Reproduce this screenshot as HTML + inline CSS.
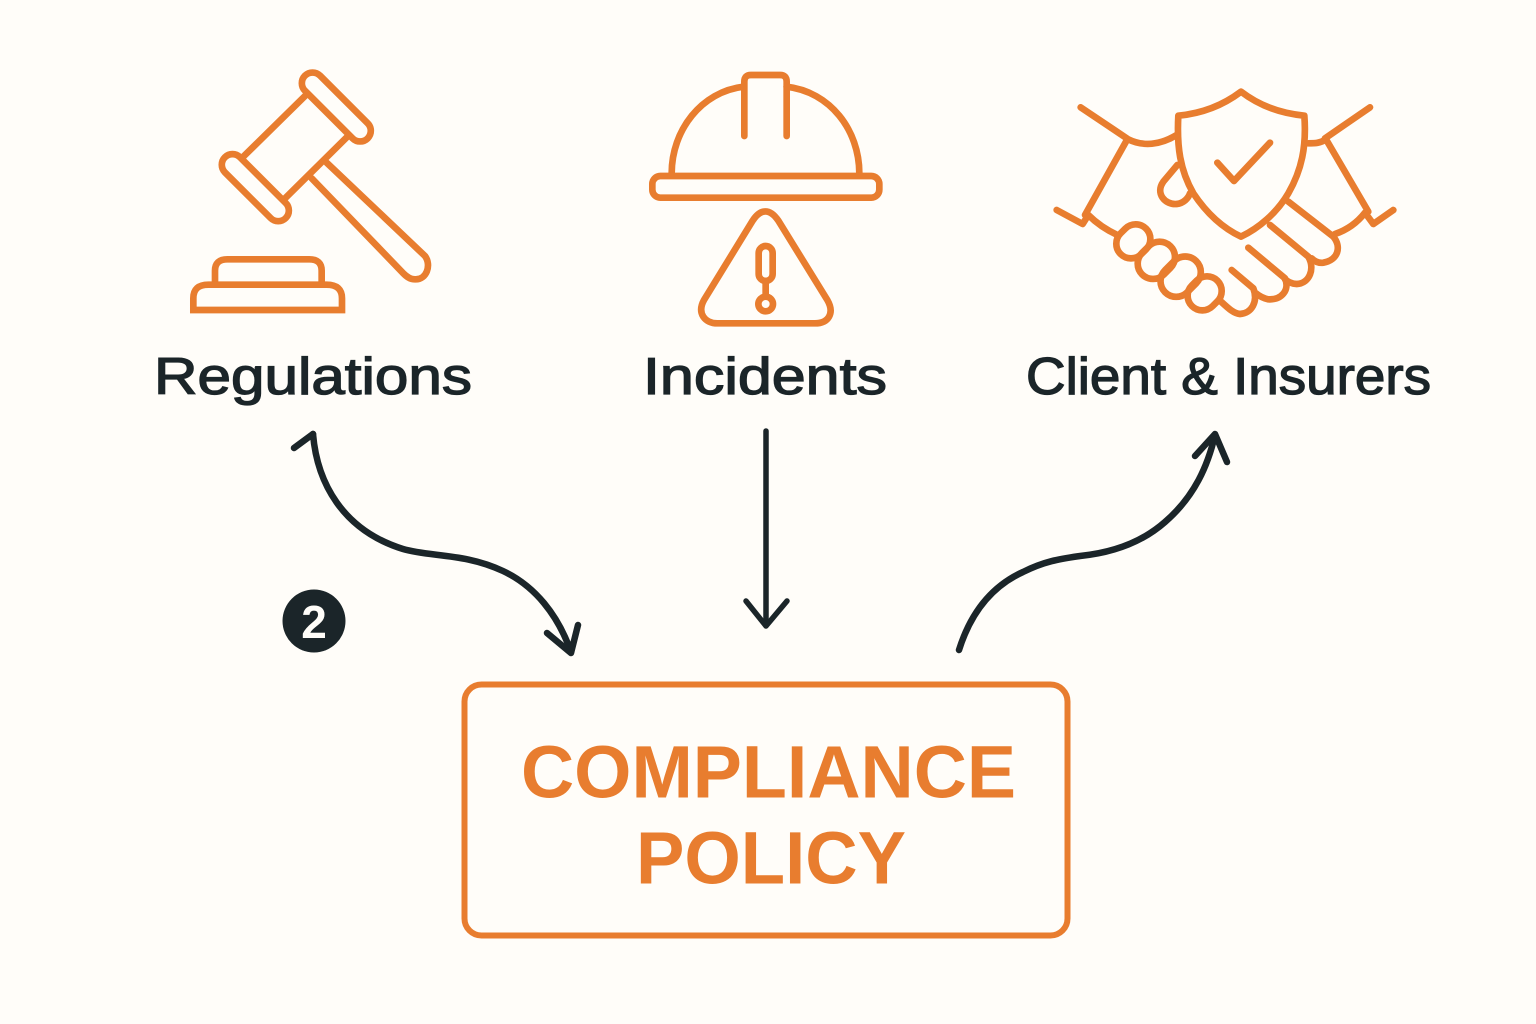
<!DOCTYPE html>
<html><head><meta charset="utf-8"><style>
html,body{margin:0;padding:0;background:#fffdf9}
svg{display:block}
text{font-family:"Liberation Sans",sans-serif}
</style></head><body>
<svg width="1536" height="1024" viewBox="0 0 1536 1024" xmlns="http://www.w3.org/2000/svg">
<rect width="1536" height="1024" fill="#fffdf9"/>

<!-- Gavel -->
<g transform="translate(170,50) scale(.33333)" fill="none" stroke="#e87d2f" stroke-width="20" stroke-linejoin="round" stroke-linecap="round">
<path d="M405,138 L220,320"/>
<path d="M530,262 L345,445"/>
<rect x="-133" y="-32" width="266" height="64" rx="32" transform="translate(499,171) rotate(45)"/>
<rect x="-129" y="-32" width="258" height="64" rx="32" transform="translate(256,413) rotate(45)"/>
<path d="M470,338 L765,618 C785,645 770,690 735,688 C720,688 710,680 700,670 L425,385"/>
<path d="M135,695 V662 Q135,628 172,628 H418 Q455,628 455,662 V695" stroke-linecap="butt"/>
<path d="M70,780 V745 Q70,704 115,704 H470 Q516,704 516,745 V780 Z" stroke-linejoin="miter"/>
</g>

<!-- Hard hat and warning -->
<g transform="translate(630,50) scale(.33333)" fill="none" stroke="#e87d2f" stroke-width="20" stroke-linejoin="round" stroke-linecap="round">
<path d="M125,370 C125,240 215,125 340,110"/>
<path d="M470,110 C600,125 688,240 688,370"/>
<path d="M343,258 V95 Q343,75 363,75 H450 Q470,75 470,95 V258"/>
<rect x="67" y="378" width="681" height="65" rx="24"/>
<path d="M368,512 L222,750 C200,790 225,820 262,820 H555 C595,820 615,790 592,750 L445,512 C420,475 392,475 368,512 Z"/>
<rect x="386" y="588" width="42" height="105" rx="21"/>
<path d="M407,693 V740"/>
<circle cx="407" cy="762" r="22"/>
</g>

<!-- Handshake and shield -->
<g transform="translate(1040,80) scale(.33333)" fill="none" stroke="#e87d2f" stroke-width="20" stroke-linejoin="round" stroke-linecap="round">
<path d="M603,35 C550,75 490,100 415,107 C410,200 420,270 460,340 C500,400 550,445 603,470 C655,445 710,400 745,340 C785,270 800,200 793,107 C720,100 655,75 603,35 Z"/>
<path d="M532,248 L582,303 L690,188"/>
<path d="M122,82 L265,178 C310,200 360,195 410,165"/>
<path d="M258,185 L135,405"/>
<path d="M50,390 L128,432 L145,405 C170,430 200,450 232,465"/>
<path d="M990,82 L855,175"/>
<path d="M805,190 C825,190 840,190 858,178 L985,395"/>
<path d="M1060,390 L1000,432 L975,398 C950,430 920,450 885,462"/>
<path d="M412,255 L370,305 C345,340 375,375 410,372 C430,370 445,355 450,340"/>
<rect x="-54" y="-44" width="108" height="88" rx="44" transform="translate(280,484) rotate(-45)"/>
<rect x="-60" y="-46" width="120" height="92" rx="46" transform="translate(349,541) rotate(-45)"/>
<rect x="-66" y="-47" width="132" height="94" rx="47" transform="translate(422,590) rotate(-45)"/>
<rect x="-54" y="-44" width="108" height="88" rx="44" transform="translate(494,640) rotate(-45)"/>
<path d="M745,365 L880,470 C905,500 895,540 850,548 C835,550 825,545 815,535"/>
<path d="M690,435 L805,530 C825,565 810,610 770,612 C755,612 745,605 735,598"/>
<path d="M625,503 L735,595 C750,630 725,660 685,658 C670,655 660,650 648,640"/>
<path d="M575,570 L640,625 C655,665 635,700 600,702 C580,700 565,685 540,662"/>
</g>

<!-- Labels -->
<g fill="#1b2529" stroke="#1b2529" stroke-width="1.3" font-size="52">
<text x="154" y="394" textLength="318" lengthAdjust="spacingAndGlyphs">Regulations</text>
<text x="643" y="394" textLength="244" lengthAdjust="spacingAndGlyphs">Incidents</text>
<text x="1026" y="394" textLength="405" lengthAdjust="spacingAndGlyphs">Client &amp; Insurers</text>
</g>

<!-- Arrows -->
<g fill="none" stroke="#1b2529" stroke-width="6.500" stroke-linecap="round" stroke-linejoin="round">
<path d="M313,434 C317,482 342,530 403,549 C430,557 465,553 503,571 C535,586 558,615 571,652"/>
<path d="M294,448 L313,434"/>
<path d="M547,633 L571,653 L578,625"/>
<path d="M766,431 V625" stroke-width="5.500"/>
<path d="M746,601 L766,626 L787,601" stroke-width="5.500"/>
<path d="M959,650 C970,615 990,587 1023,572 C1045,561 1060,559 1080,556 C1110,553 1140,544 1165,522 C1195,496 1208,465 1215,435"/>
<path d="M1195,456 L1215,434 L1227,462"/>
</g>

<!-- Badge -->
<circle cx="314" cy="621" r="31.500" fill="#1b2529"/>
<text x="314" y="638" font-size="46" font-weight="700" fill="#fffdf9" text-anchor="middle">2</text>

<!-- Policy box -->
<rect x="464.500" y="684.500" width="603" height="251" rx="17" fill="none" stroke="#e87d2f" stroke-width="6"/>
<g fill="#e87d2f" font-weight="700" font-size="74">
<text x="521" y="797.500" textLength="495" lengthAdjust="spacingAndGlyphs">COMPLIANCE</text>
<text x="636" y="883.500" textLength="270" lengthAdjust="spacingAndGlyphs">POLICY</text>
</g>
</svg>
</body></html>
